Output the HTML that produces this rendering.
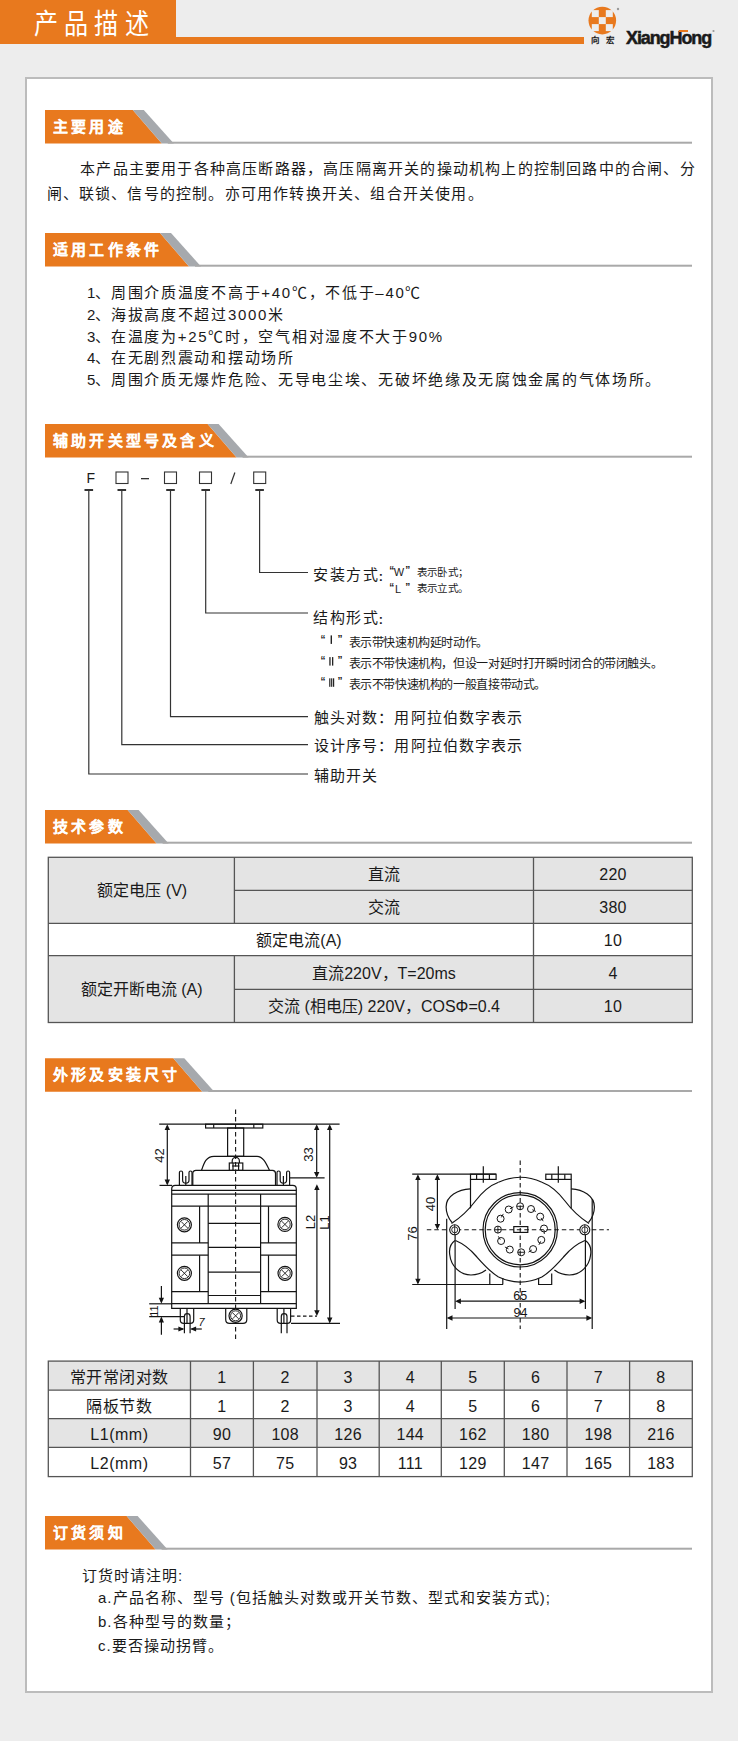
<!DOCTYPE html>
<html lang="zh-CN"><head><meta charset="utf-8">
<style>
html,body{margin:0;padding:0}
body{width:738px;height:1741px;overflow:hidden;background:#ededed;position:relative;font-family:"Liberation Sans",sans-serif;color:#1a1a1a}
.a{position:absolute;white-space:nowrap;line-height:1}
.box{position:absolute;left:25px;top:77px;width:684px;height:1612px;border:2px solid #bcbcbc;background:#fff}
.hd{position:absolute;color:#fff;font-weight:bold;-webkit-text-stroke:0.1px #fff;font-size:15px;letter-spacing:3.2px;left:53px;line-height:1;white-space:nowrap}
svg{position:absolute;left:0;top:0}
.c{position:absolute;white-space:nowrap;line-height:1;text-align:center}
</style></head><body>

<div class="a" style="left:0;top:0;width:176px;height:44px;background:#e8791e"></div>
<div class="a" style="left:176px;top:37px;width:408px;height:7px;background:#e8791e"></div>
<div class="box"></div>
<svg width="738" height="1741" viewBox="0 0 738 1741">
<circle cx="602.3" cy="20.6" r="13.8" fill="#e8791e"/>
<rect x="591.8" y="10.100000000000001" width="7" height="7" fill="#ededed"/>
<rect x="605.8" y="10.100000000000001" width="7" height="7" fill="#ededed"/>
<rect x="598.8" y="17.1" width="7" height="7" fill="#ededed"/>
<rect x="591.8" y="24.1" width="7" height="7" fill="#ededed"/>
<rect x="605.8" y="24.1" width="7" height="7" fill="#ededed"/>
<rect x="588.3" y="6.600000000000001" width="28" height="28" fill="none"/>
<circle cx="618" cy="9" r="1.2" fill="#999"/>
<circle cx="713.5" cy="31" r="1.1" fill="#999"/>
<polygon points="45,110 132.8,110 161.8,143.5 45,143.5" fill="#e8791e"/>
<polygon points="132.8,110 143.8,110 173.8,143.5 161.8,143.5" fill="#a6a9ad"/>
<rect x="167.8" y="141.7" width="524.2" height="2" fill="#a9a9a9"/>
<polygon points="45,233 160,233 189,266.5 45,266.5" fill="#e8791e"/>
<polygon points="160,233 171,233 201,266.5 189,266.5" fill="#a6a9ad"/>
<rect x="195" y="264.7" width="497" height="2" fill="#a9a9a9"/>
<polygon points="45,424 207.6,424 236.6,457.5 45,457.5" fill="#e8791e"/>
<polygon points="207.6,424 218.6,424 248.6,457.5 236.6,457.5" fill="#a6a9ad"/>
<rect x="242.6" y="455.7" width="449.4" height="2" fill="#a9a9a9"/>
<polygon points="45,810 127.6,810 156.6,843.5 45,843.5" fill="#e8791e"/>
<polygon points="127.6,810 138.6,810 168.6,843.5 156.6,843.5" fill="#a6a9ad"/>
<rect x="162.6" y="841.7" width="529.4" height="2" fill="#a9a9a9"/>
<polygon points="45,1058.3 173.3,1058.3 202.3,1091.8 45,1091.8" fill="#e8791e"/>
<polygon points="173.3,1058.3 184.3,1058.3 214.3,1091.8 202.3,1091.8" fill="#a6a9ad"/>
<rect x="208.3" y="1090.0" width="483.70000000000005" height="2" fill="#a9a9a9"/>
<polygon points="45,1516 126.6,1516 155.6,1549.5 45,1549.5" fill="#e8791e"/>
<polygon points="126.6,1516 137.6,1516 167.6,1549.5 155.6,1549.5" fill="#a6a9ad"/>
<rect x="161.6" y="1547.7" width="530.4" height="2" fill="#a9a9a9"/>
<g stroke="#333" stroke-width="1.1" fill="none">
</g>
<rect x="116.0" y="472" width="12" height="11.5" fill="none" stroke="#333" stroke-width="1.1"/>
<rect x="164.5" y="472" width="12" height="11.5" fill="none" stroke="#333" stroke-width="1.1"/>
<rect x="199.5" y="472" width="12" height="11.5" fill="none" stroke="#333" stroke-width="1.1"/>
<rect x="253.7" y="472" width="12" height="11.5" fill="none" stroke="#333" stroke-width="1.1"/>
<rect x="141" y="478" width="8" height="1.3" fill="#333"/>
<line x1="234.9" y1="472.5" x2="230.8" y2="484" stroke="#333" stroke-width="1.2"/>
<rect x="84.5" y="489" width="8.6" height="2" fill="#333"/>
<polyline points="88.8,490 88.8,774 308,774" fill="none" stroke="#333" stroke-width="1.2"/>
<rect x="117.5" y="489" width="8.6" height="2" fill="#333"/>
<polyline points="121.8,490 121.8,744.7 308,744.7" fill="none" stroke="#333" stroke-width="1.2"/>
<rect x="166.2" y="489" width="8.6" height="2" fill="#333"/>
<polyline points="170.5,490 170.5,716.6 308,716.6" fill="none" stroke="#333" stroke-width="1.2"/>
<rect x="201.39999999999998" y="489" width="8.6" height="2" fill="#333"/>
<polyline points="205.7,490 205.7,613 308,613" fill="none" stroke="#333" stroke-width="1.2"/>
<rect x="255.3" y="489" width="8.6" height="2" fill="#333"/>
<polyline points="259.6,490 259.6,572.5 308,572.5" fill="none" stroke="#333" stroke-width="1.2"/>
<g fill="#222">
<rect x="330.6" y="635.4" width="1.4" height="8.5"/>
<rect x="329.3" y="657.1" width="1.3" height="8.5"/><rect x="332" y="657.1" width="1.3" height="8.5"/>
<rect x="329.2" y="678.3" width="1.2" height="8.5"/><rect x="331.1" y="678.3" width="1.2" height="8.5"/><rect x="333" y="678.3" width="1.2" height="8.5"/>
</g>
<rect x="48.3" y="857.3" width="644.0" height="165.20000000000005" fill="#e4e4e4"/>
<rect x="48.3" y="923.4" width="644.0" height="32.200000000000045" fill="#fff"/>
<g stroke="#555" stroke-width="1.3" fill="none">
<rect x="48.3" y="857.3" width="644.0" height="165.20000000000005"/>
<line x1="48.3" y1="923.4" x2="692.3" y2="923.4"/>
<line x1="48.3" y1="955.6" x2="692.3" y2="955.6"/>
<line x1="234.4" y1="890.3" x2="692.3" y2="890.3"/>
<line x1="234.4" y1="989.3" x2="692.3" y2="989.3"/>
<line x1="234.4" y1="857.3" x2="234.4" y2="923.4"/>
<line x1="234.4" y1="955.6" x2="234.4" y2="1022.5"/>
<line x1="533.5" y1="857.3" x2="533.5" y2="1022.5"/>
</g>
<rect x="48.3" y="1361.1" width="644.0" height="29.0" fill="#e4e4e4"/>
<rect x="48.3" y="1418.7" width="644.0" height="28.59999999999991" fill="#e4e4e4"/>
<g stroke="#555" stroke-width="1.3" fill="none">
<rect x="48.3" y="1361.1" width="644.0" height="115.5"/>
<line x1="48.3" y1="1390.1" x2="692.3" y2="1390.1"/>
<line x1="48.3" y1="1418.7" x2="692.3" y2="1418.7"/>
<line x1="48.3" y1="1447.3" x2="692.3" y2="1447.3"/>
<line x1="190.5" y1="1361.1" x2="190.5" y2="1476.6"/>
<line x1="253.4" y1="1361.1" x2="253.4" y2="1476.6"/>
<line x1="317" y1="1361.1" x2="317" y2="1476.6"/>
<line x1="379.2" y1="1361.1" x2="379.2" y2="1476.6"/>
<line x1="441.3" y1="1361.1" x2="441.3" y2="1476.6"/>
<line x1="504.3" y1="1361.1" x2="504.3" y2="1476.6"/>
<line x1="567" y1="1361.1" x2="567" y2="1476.6"/>
<line x1="629.6" y1="1361.1" x2="629.6" y2="1476.6"/>
</g>
<g fill="none" stroke="#141414" stroke-width="1.2">
<line x1="159.2" y1="1124.2" x2="339.6" y2="1124.2"/>
<line x1="167.3" y1="1126" x2="167.3" y2="1184"/>
<line x1="159.5" y1="1185.4" x2="172" y2="1185.4"/>
<line x1="316.7" y1="1126" x2="316.7" y2="1176"/>
<line x1="290" y1="1177.8" x2="324.6" y2="1177.8"/>
<line x1="316.9" y1="1186" x2="316.9" y2="1314"/>
<line x1="291" y1="1316.1" x2="317" y2="1316.1" stroke-dasharray="3.5,2.5"/>
<line x1="329.7" y1="1126" x2="329.7" y2="1322"/>
<line x1="291" y1="1323.4" x2="340" y2="1323.4"/>
<rect x="205.6" y="1124.2" width="57.2" height="3.8"/>
<line x1="213.7" y1="1124.2" x2="213.7" y2="1128"/>
<line x1="253.8" y1="1124.2" x2="253.8" y2="1128"/>
<rect x="227.6" y="1128" width="16.1" height="28.3"/>
<path d="M201.5,1170.4 C204,1163 206,1156.3 214,1156.3 L257,1156.3 C263,1156.3 266,1163 269.5,1170.4"/>
<rect x="229.3" y="1163" width="13.5" height="7.4"/>
<path d="M232.2,1163 L232.2,1161 A3.6,3.6 0 0 1 239.4,1161 L239.4,1163"/>
<line x1="233" y1="1163" x2="233" y2="1170.4"/><line x1="238.6" y1="1163" x2="238.6" y2="1170.4"/>
<line x1="232.2" y1="1166" x2="239.4" y2="1166"/>
<path d="M192.8,1185.4 L192.8,1173.5 Q192.8,1170.4 196,1170.4 L272.5,1170.4 Q275.5,1170.4 275.5,1173.5 L275.5,1185.4"/>
<path d="M179.4,1185.4 L179.4,1172.5 Q179.4,1171 181.0,1171 Q182.6,1171 182.6,1172.5 L182.6,1180 A3.2,3.2 0 0 0 189.0,1180 L189.0,1172.5 Q189.0,1171 190.5,1171 Q192.0,1171 192.0,1172.5 L192.0,1185.4"/>
<line x1="185.8" y1="1176" x2="185.8" y2="1185.4"/>
<path d="M277.0,1185.4 L277.0,1172.5 Q277.0,1171 278.6,1171 Q280.2,1171 280.2,1172.5 L280.2,1180 A3.2,3.2 0 0 0 286.6,1180 L286.6,1172.5 Q286.6,1171 288.1,1171 Q289.6,1171 289.6,1172.5 L289.6,1185.4"/>
<line x1="283.4" y1="1176" x2="283.4" y2="1185.4"/>
<path d="M171.7,1308.4 L171.7,1189 Q171.7,1185.4 175.3,1185.4 L292.7,1185.4 Q296.3,1185.4 296.3,1189 L296.3,1308.4 Z"/>
<line x1="171.7" y1="1190.3" x2="296.3" y2="1190.3"/>
<line x1="171.7" y1="1194.1" x2="296.3" y2="1194.1"/>
<line x1="171.7" y1="1303.7" x2="296.3" y2="1303.7"/>
<line x1="208.2" y1="1194.1" x2="208.2" y2="1303.7"/>
<line x1="260.6" y1="1194.1" x2="260.6" y2="1303.7"/>
<line x1="171.7" y1="1206.2" x2="296.3" y2="1206.2"/>
<line x1="171.7" y1="1242.9" x2="208.2" y2="1242.9"/>
<line x1="260.6" y1="1242.9" x2="296.3" y2="1242.9"/>
<line x1="171.7" y1="1255.2" x2="208.2" y2="1255.2"/>
<line x1="260.6" y1="1255.2" x2="296.3" y2="1255.2"/>
<line x1="171.7" y1="1291.7" x2="208.2" y2="1291.7"/>
<line x1="260.6" y1="1291.7" x2="296.3" y2="1291.7"/>
<line x1="208.2" y1="1223.4" x2="260.6" y2="1223.4"/>
<line x1="208.2" y1="1247.4" x2="260.6" y2="1247.4"/>
<line x1="208.2" y1="1272.2" x2="260.6" y2="1272.2"/>
<line x1="208.2" y1="1295.5" x2="260.6" y2="1295.5"/>
<line x1="199.6" y1="1206.2" x2="199.6" y2="1242.9"/>
<line x1="199.6" y1="1255.2" x2="199.6" y2="1291.7"/>
<line x1="268.5" y1="1206.2" x2="268.5" y2="1242.9"/>
<line x1="268.5" y1="1255.2" x2="268.5" y2="1291.7"/>
<path d="M180.3,1308.4 L180.3,1320 Q180.3,1323.4 183.70000000000002,1323.4 L190.3,1323.4 Q193.70000000000002,1323.4 193.70000000000002,1320 L193.70000000000002,1308.4"/>
<path d="M184.4,1333.3 L184.4,1316.5 A2.85,2.85 0 0 1 190.1,1316.5 L190.1,1333.3"/>
<line x1="187.0" y1="1308.4" x2="187.0" y2="1323"/>
<path d="M277.2,1308.4 L277.2,1320 Q277.2,1323.4 280.59999999999997,1323.4 L287.2,1323.4 Q290.59999999999997,1323.4 290.59999999999997,1320 L290.59999999999997,1308.4"/>
<path d="M281.3,1333.3 L281.3,1316.5 A2.85,2.85 0 0 1 287.0,1316.5 L287.0,1333.3"/>
<line x1="283.90000000000003" y1="1308.4" x2="283.90000000000003" y2="1323"/>
<path d="M225.7,1308.4 L225.7,1319.5 Q225.7,1323.4 229.6,1323.4 L242.9,1323.4 Q246.8,1323.4 246.8,1319.5 L246.8,1308.4"/>
<line x1="161.4" y1="1286" x2="161.4" y2="1302"/>
<line x1="161.4" y1="1318" x2="161.4" y2="1334.7"/>
<line x1="149.2" y1="1303.8" x2="172" y2="1303.8"/>
<line x1="149.2" y1="1316.6" x2="184.4" y2="1316.6"/>
<line x1="173.6" y1="1329" x2="183" y2="1329"/>
<line x1="191.5" y1="1329" x2="201.8" y2="1329"/>
</g>
<line x1="235.6" y1="1109.5" x2="235.6" y2="1341.3" stroke="#141414" stroke-width="1.1" stroke-dasharray="4.5,3"/>
<circle cx="184.4" cy="1224.8" r="7" fill="#fff" stroke="#141414" stroke-width="1.2"/>
<circle cx="184.4" cy="1224.8" r="5.3" fill="none" stroke="#141414" stroke-width="0.9"/>
<path d="M181.114,1221.514L187.686,1228.086M181.114,1228.086L187.686,1221.514" stroke="#141414" stroke-width="0.9"/>
<circle cx="184.4" cy="1273.3" r="7" fill="#fff" stroke="#141414" stroke-width="1.2"/>
<circle cx="184.4" cy="1273.3" r="5.3" fill="none" stroke="#141414" stroke-width="0.9"/>
<path d="M181.114,1270.014L187.686,1276.586M181.114,1276.586L187.686,1270.014" stroke="#141414" stroke-width="0.9"/>
<circle cx="284.9" cy="1224.4" r="7" fill="#fff" stroke="#141414" stroke-width="1.2"/>
<circle cx="284.9" cy="1224.4" r="5.3" fill="none" stroke="#141414" stroke-width="0.9"/>
<path d="M281.614,1221.114L288.186,1227.6860000000001M281.614,1227.6860000000001L288.186,1221.114" stroke="#141414" stroke-width="0.9"/>
<circle cx="285" cy="1273.3" r="7" fill="#fff" stroke="#141414" stroke-width="1.2"/>
<circle cx="285" cy="1273.3" r="5.3" fill="none" stroke="#141414" stroke-width="0.9"/>
<path d="M281.714,1270.014L288.286,1276.586M281.714,1276.586L288.286,1270.014" stroke="#141414" stroke-width="0.9"/>
<circle cx="235.6" cy="1315.8" r="6.6" fill="#fff" stroke="#141414" stroke-width="1.2"/>
<circle cx="235.6" cy="1315.8" r="5" fill="none" stroke="#141414" stroke-width="0.9"/>
<path d="M232.5,1312.7L238.7,1318.8999999999999M232.5,1318.8999999999999L238.7,1312.7" stroke="#141414" stroke-width="0.9"/>
<polygon points="167.3,1124.2 164.60000000000002,1130.0 170.0,1130.0" fill="#141414"/>
<polygon points="167.3,1185.4 164.60000000000002,1179.6000000000001 170.0,1179.6000000000001" fill="#141414"/>
<polygon points="316.7,1124.2 314.0,1130.0 319.4,1130.0" fill="#141414"/>
<polygon points="316.7,1177.8 314.0,1172.0 319.4,1172.0" fill="#141414"/>
<polygon points="316.9,1184.2 314.2,1190.0 319.59999999999997,1190.0" fill="#141414"/>
<polygon points="316.9,1316.1 314.2,1310.3 319.59999999999997,1310.3" fill="#141414"/>
<polygon points="329.7,1124.2 327.0,1130.0 332.4,1130.0" fill="#141414"/>
<polygon points="329.7,1323.4 327.0,1317.6000000000001 332.4,1317.6000000000001" fill="#141414"/>
<polygon points="161.4,1303.8 158.8,1297.8 164.0,1297.8" fill="#141414"/>
<polygon points="161.4,1316.6 158.8,1322.6 164.0,1322.6" fill="#141414"/>
<polygon points="184.4,1329 178.4,1326.4 178.4,1331.6" fill="#141414"/>
<polygon points="190.1,1329 196.1,1326.4 196.1,1331.6" fill="#141414"/>
<text x="0" y="0" transform="translate(159.8,1155.5) rotate(-90)" text-anchor="middle" dominant-baseline="central" font-family="Liberation Sans, sans-serif" font-size="13" fill="#141414">42</text>
<text x="0" y="0" transform="translate(308.3,1154.4) rotate(-90)" text-anchor="middle" dominant-baseline="central" font-family="Liberation Sans, sans-serif" font-size="13" fill="#141414">33</text>
<text x="0" y="0" transform="translate(310.5,1222) rotate(-90)" text-anchor="middle" dominant-baseline="central" font-family="Liberation Sans, sans-serif" font-size="13" fill="#141414">L2</text>
<text x="0" y="0" transform="translate(324.3,1222.5) rotate(-90)" text-anchor="middle" dominant-baseline="central" font-family="Liberation Sans, sans-serif" font-size="13" fill="#141414">L1</text>
<text x="0" y="0" transform="translate(154.3,1311) rotate(-90)" text-anchor="middle" dominant-baseline="central" font-family="Liberation Sans, sans-serif" font-size="11" fill="#141414">11</text>
<text x="198.5" y="1325.6" font-family="Liberation Sans, sans-serif" font-size="11" font-style="italic" fill="#141414">7</text>
<g fill="none" stroke="#141414" stroke-width="1.2">
<line x1="412.2" y1="1174.2" x2="496" y2="1174.2"/>
<line x1="412.2" y1="1284.5" x2="503" y2="1284.5"/>
<line x1="417.9" y1="1176" x2="417.9" y2="1283"/>
<line x1="437.4" y1="1176" x2="437.4" y2="1228"/>
<line x1="446.7" y1="1218.7" x2="446.7" y2="1329"/>
<line x1="592.2" y1="1199" x2="592.2" y2="1329"/>
<line x1="455.1" y1="1230" x2="455.1" y2="1309"/>
<line x1="585.4" y1="1230" x2="585.4" y2="1309"/>
<line x1="457" y1="1301.2" x2="583.5" y2="1301.2"/>
<line x1="448.5" y1="1318" x2="590.5" y2="1318"/>
<path d="M498.5,1182.3 A51.6,51.6 0 0 1 541.9,1182.3"/>
<path d="M498.5,1277 A51.6,51.6 0 0 0 541.9,1277"/>
<rect x="470.5" y="1174.2" width="25.6" height="5.2"/>
<line x1="476.6" y1="1174.2" x2="476.6" y2="1179.4"/>
<line x1="489.4" y1="1174.2" x2="489.4" y2="1179.4"/>
<line x1="483.3" y1="1166.2" x2="483.3" y2="1182.7"/>
<line x1="470.5" y1="1179.4" x2="470.5" y2="1208.3"/>
<path d="M470.5,1188.8 C458,1189.5 446,1196 446.1,1207 C446.2,1214 449,1219 452,1222.5"/>
<path d="M451.5,1223.5 C461.4,1217 469.4,1209 475.4,1201 C482.4,1192 488.4,1186 498.5,1182.3"/>
<rect x="545.8" y="1174.2" width="25.4" height="5.2"/>
<line x1="551.8" y1="1174.2" x2="551.8" y2="1179.4"/>
<line x1="564.8" y1="1174.2" x2="564.8" y2="1179.4"/>
<line x1="558.3" y1="1166.2" x2="558.3" y2="1182.7"/>
<line x1="571.2" y1="1179.4" x2="571.2" y2="1208.3"/>
<path d="M571.2,1188.8 C583,1189.5 594.5,1196 594.4,1207 C594.3,1214 591.5,1219 588.5,1222.5"/>
<path d="M589,1223.5 C579,1217 571,1209 565,1201 C558,1192 552,1186 541.9,1182.3"/>
<path d="M455,1240.5 C450,1244 449,1250 449.8,1255 C451,1266 460,1275 471,1275 C477,1275 482,1273 486,1270"/>
<path d="M455.5,1240.5 C464,1244 470,1249 476,1256 C484,1265 490,1272 498.5,1277"/>
<path d="M489.8,1273.5 L489.8,1284.5 M502.8,1278 L502.8,1284.5"/>
<path d="M585.4,1240.5 C590.4,1244 591.4,1250 590.6,1255 C589.4,1266 580.4,1275 569.4,1275 C563.4,1275 558.4,1273 554.4,1270"/>
<path d="M584.9,1240.5 C576.4,1244 570.4,1249 564.4,1256 C556.4,1265 550.4,1272 541.9,1277"/>
<path d="M538.6,1278 L538.6,1284.5 L551.7,1284.5 L551.7,1273.5"/>
<circle cx="520.2" cy="1229.8" r="37.2"/>
<circle cx="520.2" cy="1229.8" r="35"/>
<rect x="513.8" y="1226.6" width="14" height="5.8"/>
</g>
<circle cx="520.1" cy="1206.3" r="3.5" fill="#fff" stroke="#141414" stroke-width="1"/>
<line x1="516.6" y1="1206.3" x2="523.6" y2="1206.3" stroke="#141414" stroke-width="0.9"/>
<circle cx="531" cy="1209" r="3.5" fill="#fff" stroke="#141414" stroke-width="1"/>
<line x1="532.3" y1="1209.7" x2="535.9" y2="1211.5" stroke="#141414" stroke-width="0.9"/>
<circle cx="540.2" cy="1216.6" r="3.5" fill="#fff" stroke="#141414" stroke-width="1"/>
<line x1="541.0" y1="1217.9" x2="543.2" y2="1221.2" stroke="#141414" stroke-width="0.9"/>
<circle cx="544" cy="1228.5" r="3.5" fill="#fff" stroke="#141414" stroke-width="1"/>
<line x1="544.1" y1="1230.0" x2="544.3" y2="1234.0" stroke="#141414" stroke-width="0.9"/>
<circle cx="541.3" cy="1239.9" r="3.5" fill="#fff" stroke="#141414" stroke-width="1"/>
<line x1="540.7" y1="1241.3" x2="538.9" y2="1244.9" stroke="#141414" stroke-width="0.9"/>
<circle cx="533.1" cy="1249.1" r="3.5" fill="#fff" stroke="#141414" stroke-width="1"/>
<line x1="531.9" y1="1249.9" x2="528.5" y2="1252.2" stroke="#141414" stroke-width="0.9"/>
<circle cx="521.2" cy="1252.3" r="3.5" fill="#fff" stroke="#141414" stroke-width="1"/>
<line x1="517.7" y1="1252.3" x2="524.7" y2="1252.3" stroke="#141414" stroke-width="0.9"/>
<circle cx="509.8" cy="1249.6" r="3.5" fill="#fff" stroke="#141414" stroke-width="1"/>
<line x1="508.5" y1="1248.9" x2="504.9" y2="1247.0" stroke="#141414" stroke-width="0.9"/>
<circle cx="501.1" cy="1241" r="3.5" fill="#fff" stroke="#141414" stroke-width="1"/>
<line x1="500.3" y1="1239.7" x2="498.3" y2="1236.3" stroke="#141414" stroke-width="0.9"/>
<circle cx="497.9" cy="1229.6" r="3.5" fill="#fff" stroke="#141414" stroke-width="1"/>
<line x1="497.9" y1="1226.1" x2="497.9" y2="1233.1" stroke="#141414" stroke-width="0.9"/>
<line x1="497.9" y1="1229.6" x2="501.4" y2="1229.6" stroke="#141414" stroke-width="0.9"/>
<circle cx="500.6" cy="1218.7" r="3.5" fill="#fff" stroke="#141414" stroke-width="1"/>
<line x1="501.3" y1="1217.4" x2="503.3" y2="1213.9" stroke="#141414" stroke-width="0.9"/>
<circle cx="508.7" cy="1209.5" r="3.5" fill="#fff" stroke="#141414" stroke-width="1"/>
<line x1="510.0" y1="1208.8" x2="513.5" y2="1206.8" stroke="#141414" stroke-width="0.9"/>
<line x1="520.2" y1="1160.4" x2="520.2" y2="1329" stroke="#141414" stroke-width="1.1" stroke-dasharray="4.5,3"/>
<line x1="426.8" y1="1229.8" x2="609" y2="1229.8" stroke="#141414" stroke-width="1.1" stroke-dasharray="4.5,3"/>
<circle cx="454.7" cy="1229.8" r="5" fill="#fff" stroke="#141414" stroke-width="1.1"/>
<circle cx="454.7" cy="1229.8" r="3" fill="none" stroke="#141414" stroke-width="0.9"/>
<line x1="454.7" y1="1224.8" x2="454.7" y2="1234.8" stroke="#141414" stroke-width="0.9"/>
<circle cx="584.8" cy="1229.8" r="5" fill="#fff" stroke="#141414" stroke-width="1.1"/>
<circle cx="584.8" cy="1229.8" r="3" fill="none" stroke="#141414" stroke-width="0.9"/>
<line x1="584.8" y1="1224.8" x2="584.8" y2="1234.8" stroke="#141414" stroke-width="0.9"/>
<polygon points="417.9,1174.2 415.2,1180.0 420.59999999999997,1180.0" fill="#141414"/>
<polygon points="417.9,1284.5 415.2,1278.7 420.59999999999997,1278.7" fill="#141414"/>
<polygon points="437.4,1174.2 434.7,1180.0 440.09999999999997,1180.0" fill="#141414"/>
<polygon points="437.4,1229.8 434.7,1224.0 440.09999999999997,1224.0" fill="#141414"/>
<polygon points="455.1,1301.2 460.90000000000003,1298.5 460.90000000000003,1303.9" fill="#141414"/>
<polygon points="585.4,1301.2 579.6,1298.5 579.6,1303.9" fill="#141414"/>
<polygon points="446.7,1318 452.5,1315.3 452.5,1320.7" fill="#141414"/>
<polygon points="592.2,1318 586.4000000000001,1315.3 586.4000000000001,1320.7" fill="#141414"/>
<text x="0" y="0" transform="translate(412.2,1233.5) rotate(-90)" text-anchor="middle" dominant-baseline="central" font-family="Liberation Sans, sans-serif" font-size="13" fill="#141414">76</text>
<text x="0" y="0" transform="translate(430.9,1204) rotate(-90)" text-anchor="middle" dominant-baseline="central" font-family="Liberation Sans, sans-serif" font-size="13" fill="#141414">40</text>
<text x="520.2" y="1299.5" text-anchor="middle" font-family="Liberation Sans, sans-serif" font-size="12.5" fill="#141414">65</text>
<text x="520.5" y="1316.5" text-anchor="middle" font-family="Liberation Sans, sans-serif" font-size="12.5" fill="#141414">94</text>
</svg>
<div class="a" style="left:32px;top:10.5px;width:28px;text-align:center;font-size:28px;color:#fff;transform:scaleX(0.86)">产</div>
<div class="a" style="left:61.900000000000006px;top:10.5px;width:28px;text-align:center;font-size:28px;color:#fff;transform:scaleX(0.86)">品</div>
<div class="a" style="left:91.7px;top:10.5px;width:28px;text-align:center;font-size:28px;color:#fff;transform:scaleX(0.86)">描</div>
<div class="a" style="left:123px;top:10.5px;width:28px;text-align:center;font-size:28px;color:#fff;transform:scaleX(0.86)">述</div>
<div class="a" style="left:591px;top:36px;font-size:8.5px;letter-spacing:0px;color:#1a1a1a;font-weight:bold">向</div>
<div class="a" style="left:605.5px;top:36px;font-size:8.5px;letter-spacing:0px;color:#1a1a1a;font-weight:bold">宏</div>
<div class="a" style="left:626px;top:29px;font-size:18px;letter-spacing:-1.1px;font-weight:bold;color:#1a1a1a;-webkit-text-stroke:0.5px #1a1a1a">XiangHong</div>
<div class="a" style="left:679px;top:30px;width:9px;height:2.2px;background:#e8791e"></div>
<div class="hd" style="top:119px">主要用途</div>
<div class="hd" style="top:242px">适用工作条件</div>
<div class="hd" style="top:433px">辅助开关型号及含义</div>
<div class="hd" style="top:819px">技术参数</div>
<div class="hd" style="top:1067.3px">外形及安装尺寸</div>
<div class="hd" style="top:1525px">订货须知</div>
<div class="a" style="left:80.3px;top:161px;font-size:15px;letter-spacing:1.2px;">本产品主要用于各种高压断路器，高压隔离开关的操动机构上的控制回路中的合闸、分</div>
<div class="a" style="left:46.5px;top:185.5px;font-size:15px;letter-spacing:1.2px;">闸、联锁、信号的控制。亦可用作转换开关、组合开关使用。</div>
<div class="a" style="left:87px;top:285.0px;font-size:15px;letter-spacing:0px;">1、</div>
<div class="a" style="left:111px;top:285.0px;font-size:15px;letter-spacing:1.7px;">周围介质温度不高于+40℃，不低于–40℃</div>
<div class="a" style="left:87px;top:306.8px;font-size:15px;letter-spacing:0px;">2、</div>
<div class="a" style="left:111px;top:306.8px;font-size:15px;letter-spacing:1.7px;">海拔高度不超过3000米</div>
<div class="a" style="left:87px;top:328.6px;font-size:15px;letter-spacing:0px;">3、</div>
<div class="a" style="left:111px;top:328.6px;font-size:15px;letter-spacing:1.7px;">在温度为+25℃时，空气相对湿度不大于90%</div>
<div class="a" style="left:87px;top:350.4px;font-size:15px;letter-spacing:0px;">4、</div>
<div class="a" style="left:111px;top:350.4px;font-size:15px;letter-spacing:1.7px;">在无剧烈震动和摆动场所</div>
<div class="a" style="left:87px;top:372.2px;font-size:15px;letter-spacing:0px;">5、</div>
<div class="a" style="left:111px;top:372.2px;font-size:15px;letter-spacing:1.7px;">周围介质无爆炸危险、无导电尘埃、无破坏绝缘及无腐蚀金属的气体场所。</div>
<div class="a" style="left:86.5px;top:471px;font-size:14px;letter-spacing:0px;">F</div>
<div class="a" style="left:313px;top:567px;font-size:15px;letter-spacing:1.6px;">安装方式</div>
<div class="a" style="left:378.8px;top:567.8px;font-size:15px;letter-spacing:0px;"><b style="font-size:12.5px">:</b></div>
<div class="a" style="left:389.3px;top:566.3px;font-size:10px;letter-spacing:0px;font-weight:bold">“</div>
<div class="a" style="left:405.2px;top:566.3px;font-size:10px;letter-spacing:0px;font-weight:bold">”</div>
<div class="a" style="left:393.8px;top:567px;font-size:11px;letter-spacing:0px;">W</div>
<div class="a" style="left:389.3px;top:583.3px;font-size:10px;letter-spacing:0px;font-weight:bold">“</div>
<div class="a" style="left:405.2px;top:583.3px;font-size:10px;letter-spacing:0px;font-weight:bold">”</div>
<div class="a" style="left:395px;top:584px;font-size:11px;letter-spacing:0px;">L</div>
<div class="a" style="left:417px;top:566.5px;font-size:10.5px;letter-spacing:0.2px;">表示卧式；</div>
<div class="a" style="left:417px;top:583px;font-size:10.5px;letter-spacing:0.2px;">表示立式。</div>
<div class="a" style="left:313px;top:610px;font-size:15px;letter-spacing:1.6px;">结构形式</div>
<div class="a" style="left:378.8px;top:610.8px;font-size:15px;letter-spacing:0px;"><b style="font-size:12.5px">:</b></div>
<div class="a" style="left:320.5px;top:634.7px;font-size:10px;letter-spacing:0px;font-weight:bold">“</div>
<div class="a" style="left:337.5px;top:634.7px;font-size:10px;letter-spacing:0px;font-weight:bold">”</div>
<div class="a" style="left:320.5px;top:656.3px;font-size:10px;letter-spacing:0px;font-weight:bold">“</div>
<div class="a" style="left:337.5px;top:656.3px;font-size:10px;letter-spacing:0px;font-weight:bold">”</div>
<div class="a" style="left:320.5px;top:677.1px;font-size:10px;letter-spacing:0px;font-weight:bold">“</div>
<div class="a" style="left:337.5px;top:677.1px;font-size:10px;letter-spacing:0px;font-weight:bold">”</div>
<div class="a" style="left:348.5px;top:636.7px;font-size:12px;letter-spacing:-0.38px;">表示带快速机构延时动作。</div>
<div class="a" style="left:348.5px;top:658.3px;font-size:12px;letter-spacing:-0.38px;">表示不带快速机构，但设一对延时打开瞬时闭合的带闭触头。</div>
<div class="a" style="left:348.5px;top:679.1px;font-size:12px;letter-spacing:-0.38px;">表示不带快速机构的一般直接带动式。</div>
<div class="a" style="left:314px;top:710px;font-size:15px;letter-spacing:1.1px;">触头对数：用阿拉伯数字表示</div>
<div class="a" style="left:314px;top:738px;font-size:15px;letter-spacing:1.1px;">设计序号：用阿拉伯数字表示</div>
<div class="a" style="left:314px;top:767.5px;font-size:15px;letter-spacing:1.1px;">辅助开关</div>
<div class="c" style="left:-157.7px;width:600px;top:882.8000000000001px;font-size:16px;letter-spacing:0px;">额定电压 (V)</div>
<div class="c" style="left:-158.3px;width:600px;top:981.9000000000001px;font-size:16px;letter-spacing:0px;">额定开断电流 (A)</div>
<div class="c" style="left:84px;width:600px;top:867.3px;font-size:16px;letter-spacing:0px;">直流</div>
<div class="c" style="left:84px;width:600px;top:900.3499999999999px;font-size:16px;letter-spacing:0px;">交流</div>
<div class="c" style="left:-1px;width:600px;top:933.0px;font-size:16px;letter-spacing:0px;">额定电流(A)</div>
<div class="c" style="left:84px;width:600px;top:965.95px;font-size:16px;letter-spacing:0px;">直流220V，T=20ms</div>
<div class="c" style="left:84px;width:600px;top:999.4px;font-size:16px;letter-spacing:0px;">交流 (相电压) 220V，COSΦ=0.4</div>
<div class="c" style="left:313px;width:600px;top:867.3px;font-size:16px;letter-spacing:0.3px;">220</div>
<div class="c" style="left:313px;width:600px;top:900.3499999999999px;font-size:16px;letter-spacing:0.3px;">380</div>
<div class="c" style="left:313px;width:600px;top:933.0px;font-size:16px;letter-spacing:0.3px;">10</div>
<div class="c" style="left:313px;width:600px;top:965.95px;font-size:16px;letter-spacing:0.3px;">4</div>
<div class="c" style="left:313px;width:600px;top:999.4px;font-size:16px;letter-spacing:0.3px;">10</div>
<div class="c" style="left:-180.6px;width:600px;top:1369.8px;font-size:16px;letter-spacing:0.5px;">常开常闭对数</div>
<div class="c" style="left:-78.05000000000001px;width:600px;top:1369.8px;font-size:16px;letter-spacing:0.3px;">1</div>
<div class="c" style="left:-14.800000000000011px;width:600px;top:1369.8px;font-size:16px;letter-spacing:0.3px;">2</div>
<div class="c" style="left:48.10000000000002px;width:600px;top:1369.8px;font-size:16px;letter-spacing:0.3px;">3</div>
<div class="c" style="left:110.25px;width:600px;top:1369.8px;font-size:16px;letter-spacing:0.3px;">4</div>
<div class="c" style="left:172.8px;width:600px;top:1369.8px;font-size:16px;letter-spacing:0.3px;">5</div>
<div class="c" style="left:235.64999999999998px;width:600px;top:1369.8px;font-size:16px;letter-spacing:0.3px;">6</div>
<div class="c" style="left:298.29999999999995px;width:600px;top:1369.8px;font-size:16px;letter-spacing:0.3px;">7</div>
<div class="c" style="left:360.95000000000005px;width:600px;top:1369.8px;font-size:16px;letter-spacing:0.3px;">8</div>
<div class="c" style="left:-180.6px;width:600px;top:1398.6000000000001px;font-size:16px;letter-spacing:0.5px;">隔板节数</div>
<div class="c" style="left:-78.05000000000001px;width:600px;top:1398.6000000000001px;font-size:16px;letter-spacing:0.3px;">1</div>
<div class="c" style="left:-14.800000000000011px;width:600px;top:1398.6000000000001px;font-size:16px;letter-spacing:0.3px;">2</div>
<div class="c" style="left:48.10000000000002px;width:600px;top:1398.6000000000001px;font-size:16px;letter-spacing:0.3px;">3</div>
<div class="c" style="left:110.25px;width:600px;top:1398.6000000000001px;font-size:16px;letter-spacing:0.3px;">4</div>
<div class="c" style="left:172.8px;width:600px;top:1398.6000000000001px;font-size:16px;letter-spacing:0.3px;">5</div>
<div class="c" style="left:235.64999999999998px;width:600px;top:1398.6000000000001px;font-size:16px;letter-spacing:0.3px;">6</div>
<div class="c" style="left:298.29999999999995px;width:600px;top:1398.6000000000001px;font-size:16px;letter-spacing:0.3px;">7</div>
<div class="c" style="left:360.95000000000005px;width:600px;top:1398.6000000000001px;font-size:16px;letter-spacing:0.3px;">8</div>
<div class="c" style="left:-180.6px;width:600px;top:1427.2px;font-size:16px;letter-spacing:0.5px;">L1(mm)</div>
<div class="c" style="left:-78.05000000000001px;width:600px;top:1427.2px;font-size:16px;letter-spacing:0.3px;">90</div>
<div class="c" style="left:-14.800000000000011px;width:600px;top:1427.2px;font-size:16px;letter-spacing:0.3px;">108</div>
<div class="c" style="left:48.10000000000002px;width:600px;top:1427.2px;font-size:16px;letter-spacing:0.3px;">126</div>
<div class="c" style="left:110.25px;width:600px;top:1427.2px;font-size:16px;letter-spacing:0.3px;">144</div>
<div class="c" style="left:172.8px;width:600px;top:1427.2px;font-size:16px;letter-spacing:0.3px;">162</div>
<div class="c" style="left:235.64999999999998px;width:600px;top:1427.2px;font-size:16px;letter-spacing:0.3px;">180</div>
<div class="c" style="left:298.29999999999995px;width:600px;top:1427.2px;font-size:16px;letter-spacing:0.3px;">198</div>
<div class="c" style="left:360.95000000000005px;width:600px;top:1427.2px;font-size:16px;letter-spacing:0.3px;">216</div>
<div class="c" style="left:-180.6px;width:600px;top:1456.1499999999999px;font-size:16px;letter-spacing:0.5px;">L2(mm)</div>
<div class="c" style="left:-78.05000000000001px;width:600px;top:1456.1499999999999px;font-size:16px;letter-spacing:0.3px;">57</div>
<div class="c" style="left:-14.800000000000011px;width:600px;top:1456.1499999999999px;font-size:16px;letter-spacing:0.3px;">75</div>
<div class="c" style="left:48.10000000000002px;width:600px;top:1456.1499999999999px;font-size:16px;letter-spacing:0.3px;">93</div>
<div class="c" style="left:110.25px;width:600px;top:1456.1499999999999px;font-size:16px;letter-spacing:0.3px;">111</div>
<div class="c" style="left:172.8px;width:600px;top:1456.1499999999999px;font-size:16px;letter-spacing:0.3px;">129</div>
<div class="c" style="left:235.64999999999998px;width:600px;top:1456.1499999999999px;font-size:16px;letter-spacing:0.3px;">147</div>
<div class="c" style="left:298.29999999999995px;width:600px;top:1456.1499999999999px;font-size:16px;letter-spacing:0.3px;">165</div>
<div class="c" style="left:360.95000000000005px;width:600px;top:1456.1499999999999px;font-size:16px;letter-spacing:0.3px;">183</div>
<div class="a" style="left:82px;top:1567.5px;font-size:15px;letter-spacing:1px;">订货时请注明:</div>
<div class="a" style="left:98px;top:1590px;font-size:15px;letter-spacing:1px;">a.产品名称、型号 (包括触头对数或开关节数、型式和安装方式);</div>
<div class="a" style="left:98px;top:1614px;font-size:15px;letter-spacing:1px;">b.各种型号的数量；</div>
<div class="a" style="left:98px;top:1638px;font-size:15px;letter-spacing:1px;">c.要否操动拐臂。</div>
</body></html>
